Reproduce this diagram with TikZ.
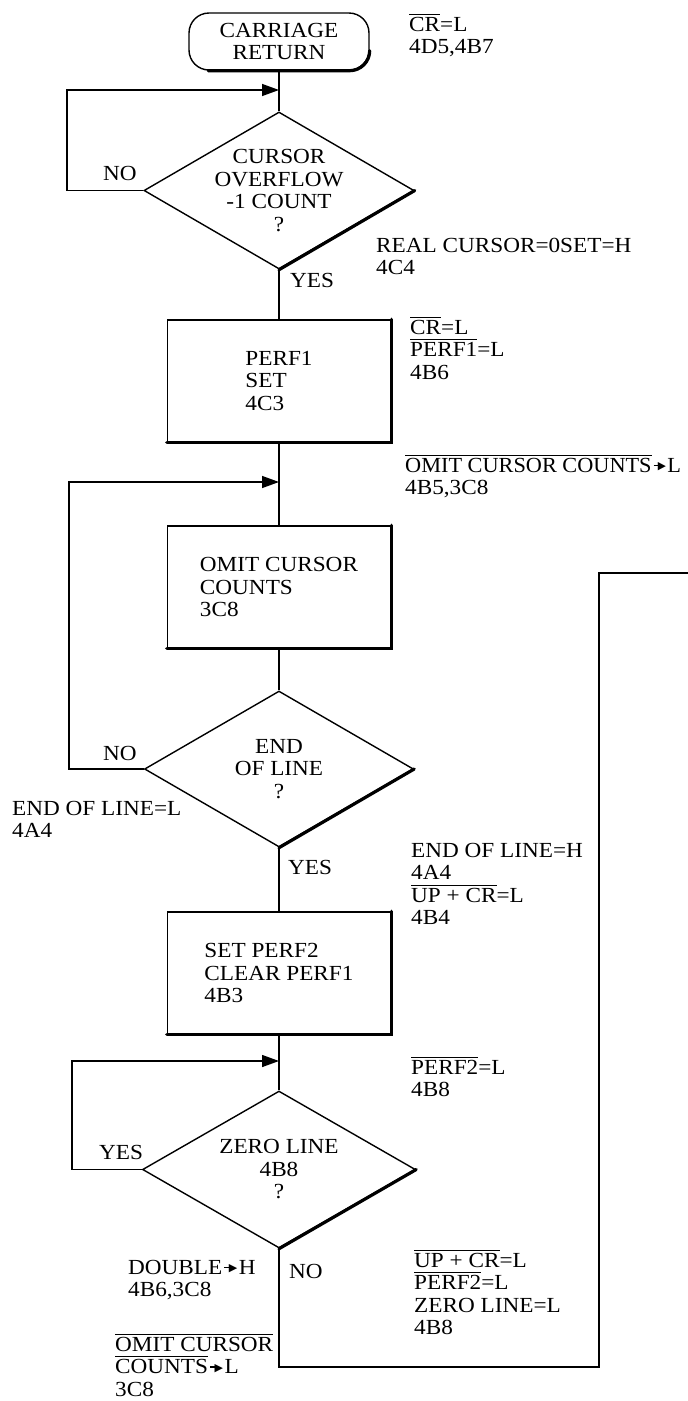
\documentclass[tikz,border=0pt]{standalone}
\usepackage{fontspec}
\setmainfont[FakeStretch=1.08]{Liberation Serif}
\newfontfamily\djv{DejaVu Sans}
\usetikzlibrary{shapes.geometric,arrows.meta}
\newcommand\ovl[1]{\begingroup\setbox0=\hbox{#1}\rlap{\rule[\dimexpr\ht0+2.2pt\relax]{\wd0}{1.1pt}}\box0\endgroup}
\newcommand\sarr{\kern2pt\raisebox{6.3pt}{\rule{6pt}{1.5pt}}\kern-1.5pt\raisebox{2.6pt}{\djv\fontsize{11}{11}\selectfont ▶}\kern1.5pt}
\begin{document}
\begin{tikzpicture}[x=1pt,y=-1pt,
  every node/.style={font=\fontsize{21.5}{22.5}\selectfont},
  ln/.style={line width=1.4pt},
  thk/.style={line width=3.2pt, line cap=round},
  proc/.style={draw, line width=1.4pt, minimum width=223pt, minimum height=122pt, align=left, inner sep=0pt},
  dec/.style={diamond, draw, line width=1.4pt, inner sep=0pt, aspect=1.72, align=center},
  term/.style={draw, line width=1.4pt, rounded corners=20pt, minimum width=180pt, minimum height=57pt, align=center, inner sep=0pt},
  lbl/.style={anchor=north west, inner sep=0pt, align=left},
  yn/.style={inner sep=0pt},
  arr/.style={line width=1.4pt, -{Triangle[length=17pt,width=12pt]}},
]
\useasboundingbox (0,0) rectangle (688,1401);
\fill[white] (0,0) rectangle (688,1401);

% nodes
\node[term] (t) at (279,41.5) {CARRIAGE\\RETURN};
\node[dec, minimum width=266pt, minimum height=155pt] (d1) at (279,190.5) {CURSOR\\OVERFLOW\\-1 COUNT\\?};
\node[proc] (p1) at (279,381) {PERF1\\SET\\4C3};
\node[proc] (p2) at (279,587) {OMIT CURSOR\\COUNTS\\3C8};
\node[dec, minimum width=269pt, minimum height=156pt] (d2) at (279,769) {END\\OF LINE\\?};
\node[proc] (p3) at (279,973) {SET PERF2\\CLEAR PERF1\\4B3};
\node[dec, minimum width=273pt, minimum height=157pt] (d3) at (279,1169.5) {ZERO LINE\\4B8\\?};

% thick shadow edges
\draw[thk] ([xshift=20pt]t.south west) -- ([xshift=-20pt]t.south east) arc[start angle=-90, end angle=0, radius=20pt];
\draw[thk] (d1.east) -- (d1.south);
\draw[thk] (d2.east) -- (d2.south);
\draw[thk] (d3.east) -- (d3.south);
\draw[thk] (p1.north east) -- (p1.south east) -- (p1.south west);
\draw[thk] (p2.north east) -- (p2.south east) -- (p2.south west);
\draw[thk] (p3.north east) -- (p3.south east) -- (p3.south west);

% coordinates
\coordinate (a1) at (279,90);
\coordinate (l1) at (67,90);
\coordinate (a2) at (279,482);
\coordinate (l2) at (69,482);
\coordinate (a3) at (279,1061);
\coordinate (l3) at (72,1061);
\coordinate (c2) at (599,1367);
\coordinate (c3) at (688,573);

% connectors
\draw[ln] (t.south) -- (d1.north);
\draw[arr] (d1.west) -| (l1) -- (a1);
\draw[ln] (d1.south) -- (p1.north);
\draw[ln] (p1.south) -- (p2.north);
\draw[arr] (d2.west) -| (l2) -- (a2);
\draw[ln] (p2.south) -- (d2.north);
\draw[ln] (d2.south) -- (p3.north);
\draw[ln] (p3.south) -- (d3.north);
\draw[arr] (d3.west) -| (l3) -- (a3);
\draw[ln] (d3.south) |- (c2) |- (c3);

% branch labels
\node[yn] (no1) at (120,173) {NO};
\node[yn, anchor=west] (yes1) at (290,280) {YES};
\node[yn] (no2) at (120,753) {NO};
\node[yn, anchor=west] (yes2) at (288,867) {YES};
\node[yn] (yes3) at (121,1152) {YES};
\node[yn, anchor=west] (no3) at (289,1271) {NO};

% signal labels
\node[lbl] (s1) at (409,13.6) {\ovl{CR}=L\\4D5,4B7};
\node[lbl] (s2) at (376,237.9) {REAL CURSOR=0SET=H\\4C4};
\node[lbl] (s3) at (410,316.6) {\ovl{CR}=L\\\ovl{PERF1}=L\\4B6};
\node[lbl] (s4) at (405,454.6) {\scalebox{0.96}[1]{\ovl{OMIT CURSOR COUNTS}\sarr L}\\4B5,3C8};
\node[lbl] (s5) at (12,800.9) {END OF LINE=L\\4A4};
\node[lbl] (s6) at (411,842.9) {END OF LINE=H\\4A4\\\ovl{UP + CR}=L\\4B4};
\node[lbl] (s7) at (411,1056.6) {\ovl{PERF2}=L\\4B8};
\node[lbl] (s8) at (128,1259.9) {DOUBLE\sarr H\\4B6,3C8};
\node[lbl] (s9) at (115,1333.6) {\ovl{OMIT CURSOR}\\\ovl{COUNTS}\sarr L\\3C8};
\node[lbl] (s10) at (414,1249.6) {\ovl{UP + CR}=L\\\ovl{PERF2}=L\\ZERO LINE=L\\4B8};
\end{tikzpicture}
\end{document}
